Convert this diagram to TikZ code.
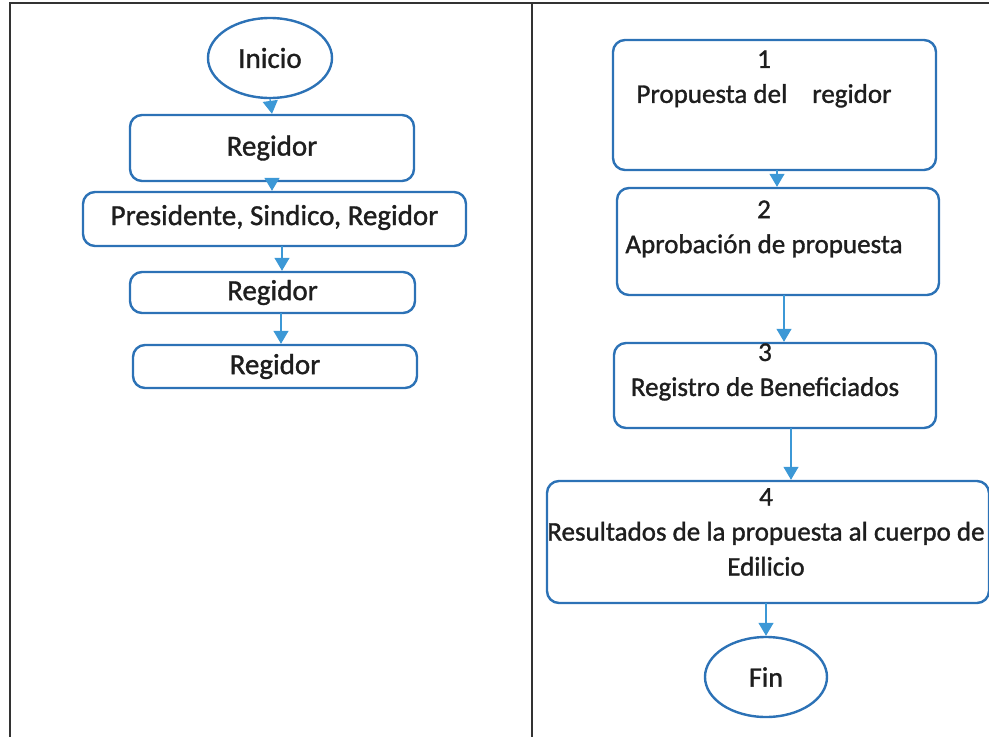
\documentclass[tikz,border=0pt]{standalone}
\usepackage{fontspec}
\setmainfont[FakeBold=1.2]{Carlito}
\usetikzlibrary{shapes.geometric,arrows.meta}

\definecolor{azulcaja}{RGB}{44,114,182}
\definecolor{azulflecha}{RGB}{60,152,214}
\definecolor{tinta}{RGB}{30,30,30}

\tikzset{
    caja/.style={draw=azulcaja,line width=2.4pt,rounded corners=12pt,
                 text=tinta,align=center,inner sep=0pt},
    ovalo/.style={ellipse,draw=azulcaja,line width=2.4pt,text=tinta,inner sep=0pt},
    texto/.style={text=tinta,align=center,inner sep=0pt,font=\fontsize{27}{35}\selectfont},
    flecha/.style={azulflecha,line width=1.3pt,-{Triangle[width=15pt,length=13pt]}}
}

\begin{document}
\begin{tikzpicture}[x=1pt,y=-1pt,font=\fontsize{29}{35}\selectfont]
        % fix the size of the page
        \useasboundingbox (0,0) rectangle (989,737);

        % frame of the table
        \draw[line width=1.6pt,black!80] (10,737)--(10,3)--(989,3);
        \draw[line width=1.6pt,black!80] (532,3)--(532,737);

        % left column
        \node[ovalo,minimum width=124,minimum height=80] (inicio) at (270,58) {Inicio};
        \node[caja,minimum width=284,minimum height=66] (reg1) at (272,148) {Regidor};
        \node[caja,minimum width=383,minimum height=54] (pres) at (274.5,219) {Presidente, Sindico, Regidor\rule[-8pt]{0pt}{8pt}};
        \node[caja,minimum width=285,minimum height=41] (reg2) at (272.5,292.5) {Regidor};
        \node[caja,minimum width=284,minimum height=43] (reg3) at (275,366.5) {Regidor};

        \draw[flecha] (inicio.south) -- (reg1.north);
        \draw[flecha] (reg1.south) -- (reg1.south |- pres.north);
        \draw[flecha] (282,246) coordinate (s2) -- (s2 |- reg2.north);
        \draw[flecha] (281,313) coordinate (s3) -- (s3 |- reg3.north);

        % right column
        \node[caja,minimum width=323,minimum height=130] (paso1) at (774.5,105) {};
        \node[texto] (t1) at (764,79) {1\\Propuesta del\hspace{0.7em} regidor};

        \node[caja,minimum width=322,minimum height=107] (paso2) at (778,241.5) {};
        \node[texto] (t2) at (764,229) {2\\Aprobación de propuesta};

        \node[caja,minimum width=322,minimum height=85] (paso3) at (775,385.5) {};
        \node[texto] (t3) at (765,372) {3\\Registro de Beneficiados};

        \node[caja,minimum width=442,minimum height=122] (paso4) at (768,542) {};
        \node[texto] (t4) at (766,532) {4\\Resultados de la propuesta al cuerpo de\\Edilicio};

        \node[ovalo,minimum width=122,minimum height=80,font=\fontsize{28}{35}\selectfont] (fin) at (766,677) {Fin};

        \draw[flecha] (777,170) coordinate (a1) -- (a1 |- paso2.north);
        \draw[flecha] (784,295) coordinate (a2) -- (a2 |- paso3.north);
        \draw[flecha] (791,428) coordinate (a3) -- (a3 |- paso4.north);
        \draw[flecha] (766,603) coordinate (a4) -- (fin.north);
\end{tikzpicture}
\end{document}
